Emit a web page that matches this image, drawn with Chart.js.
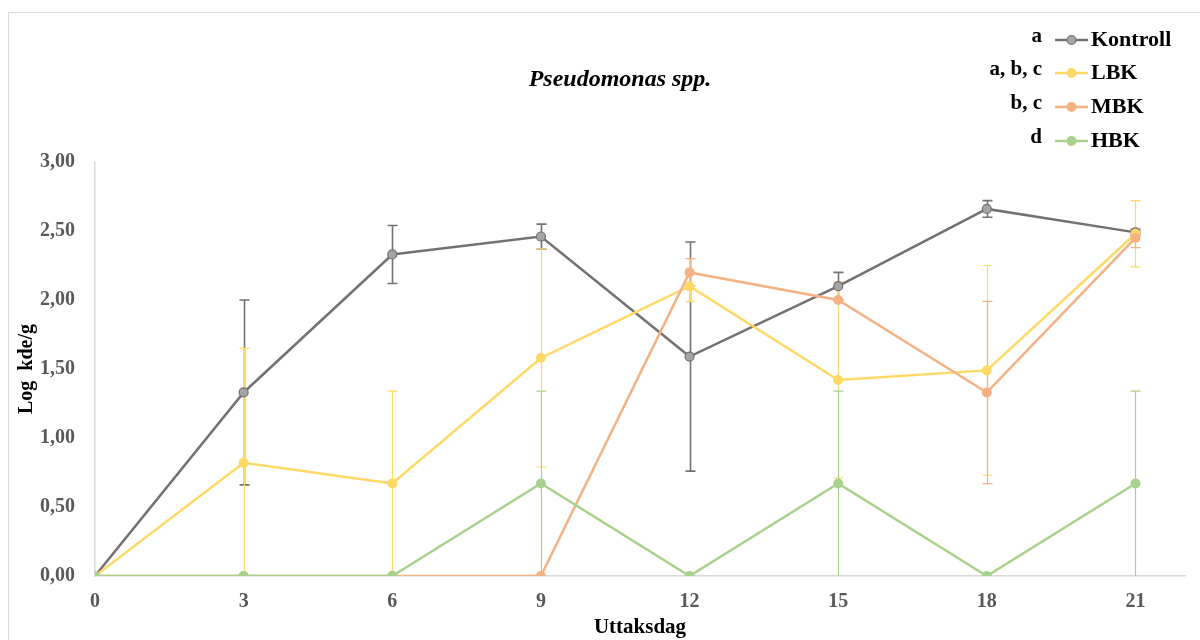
<!DOCTYPE html>
<html>
<head>
<meta charset="utf-8">
<script src="https://cdn.jsdelivr.net/npm/chart.js@4"></script>
<style>
  html, body { margin: 0; padding: 0; background: #fff; }
  #wrap { width: 1200px; height: 640px; position: relative; }
</style>
</head>
<body>
<div id="wrap"><canvas id="chart" width="1200" height="640"></canvas></div>
<script>
// sampling days
const days = [0, 3, 6, 9, 12, 15, 18, 21];

// mean log kde/g per series
const kontroll = [0, 1.33, 2.33, 2.46, 1.59, 2.10, 2.66, 2.49];
const lbk      = [0, 0.82, 0.67, 1.58, 2.10, 1.42, 1.49, 2.48];
const mbk      = [0, 0, 0, 0, 2.20, 2.00, 1.33, 2.45];
const hbk      = [0, 0, 0, 0.67, 0, 0.67, 0, 0.67];

// standard deviations (error bars)
const kontrollErr = [0, 0.67, 0.21, 0.09, 0.83, 0.10, 0.06, 0.02];
const lbkErr      = [0, 0.83, 0.67, 0.79, 0.11, 0.71, 0.76, 0.24];
const mbkErr      = [0, 0, 0, 0, 0.10, 0, 0.66, 0.07];
const hbkErr      = [0, 0, 0, 0.67, 0, 0.67, 0, 0.67];

// significance letters shown before each legend entry
const seriesNames = ['Kontroll', 'LBK', 'MBK', 'HBK'];
const groupLetters = ['a', 'a, b, c', 'b, c', 'd'];

const yTicks = [0, 0.5, 1, 1.5, 2, 2.5, 3];

const FONT = '"Liberation Serif", "Times New Roman", serif';
const COLORS = {
  kontroll: '#767171',
  lbk: '#FFD966',
  mbk: '#F4B183',
  hbk: '#A9D18E',
};
const POINT_FILL = ['#A5A5A5', COLORS.lbk, COLORS.mbk, COLORS.hbk];
const LINE_COLORS = [COLORS.kontroll, COLORS.lbk, COLORS.mbk, COLORS.hbk];

function toPoints(values) {
  return days.map((d, i) => ({ x: d, y: values[i] }));
}

function makeDataset(label, values, errs, idx) {
  return {
    label,
    data: toPoints(values),
    errors: errs,
    borderColor: LINE_COLORS[idx],
    backgroundColor: POINT_FILL[idx],
    pointBorderColor: LINE_COLORS[idx],
    pointBorderWidth: idx === 0 ? 1.2 : 0,
    pointRadius: idx === 0 ? 4.5 : 5,
    borderWidth: 2.5,
    tension: 0,
    order: 3 - idx,
  };
}

/**
 * Error bars, drawn with the chart's own scales
 */
const errorBars = {
  id: 'errorBars',
  beforeDatasetsDraw(chart) {
    const { ctx, scales: { x, y } } = chart;
    ctx.save();
    for (let di = 0; di < chart.data.datasets.length; di++) {
      const ds = chart.data.datasets[di];
      ctx.strokeStyle = ds.borderColor;
      ctx.lineWidth = di === 0 ? 1.6 : 1.2;
      ds.data.forEach((p, i) => {
        const e = ds.errors[i];
        if (!e) return;
        const px = Math.round(x.getPixelForValue(p.x)) + 0.5;
        const top = y.getPixelForValue(p.y + e);
        const bot = y.getPixelForValue(Math.max(0, p.y - e));
        ctx.beginPath();
        ctx.moveTo(px, top);
        ctx.lineTo(px, bot);
        ctx.moveTo(px - 5, top);
        ctx.lineTo(px + 5, top);
        if (p.y - e > 0) {
          ctx.moveTo(px - 5, bot);
          ctx.lineTo(px + 5, bot);
        }
        ctx.stroke();
      });
    }
    ctx.restore();
  }
};

/**
 * Frame, title and the lettered legend
 */
const decorations = {
  id: 'decorations',
  beforeDraw(chart) {
    const { ctx } = chart;
    ctx.save();
    ctx.strokeStyle = '#D9D9D9';
    ctx.lineWidth = 1;
    ctx.strokeRect(8.5, 12.5, 1300, 700);
    ctx.restore();
  },
  afterDraw(chart) {
    const { ctx } = chart;
    ctx.save();
    ctx.fillStyle = '#000';
    ctx.textAlign = 'center';
    ctx.textBaseline = 'middle';
    ctx.font = 'italic bold 24px ' + FONT;
    ctx.fillText('Pseudomonas spp.', 620, 80);

    const rowY = [40, 73, 107, 141];
    chart.data.datasets.forEach((ds, i) => {
      const yy = rowY[i];
      ctx.font = 'bold 21px ' + FONT;
      ctx.textAlign = 'right';
      ctx.fillStyle = '#000';
      ctx.fillText(groupLetters[i], 1042, yy - 3);

      ctx.strokeStyle = ds.borderColor;
      ctx.lineWidth = 2.5;
      ctx.beginPath();
      ctx.moveTo(1055, yy);
      ctx.lineTo(1088, yy);
      ctx.stroke();
      ctx.beginPath();
      ctx.arc(1071.5, yy, ds.pointRadius, 0, Math.PI * 2);
      ctx.fillStyle = ds.backgroundColor;
      ctx.fill();
      if (ds.pointBorderWidth) {
        ctx.lineWidth = ds.pointBorderWidth;
        ctx.stroke();
      }

      ctx.font = 'bold 22px ' + FONT;
      ctx.textAlign = 'left';
      ctx.fillStyle = '#000';
      ctx.fillText(ds.label, 1091, yy);
    });
    ctx.restore();
  }
};

const canvas = document.getElementById('chart');

new Chart(canvas, {
  type: 'line',
  data: {
    datasets: [
      makeDataset(seriesNames[0], kontroll, kontrollErr, 0),
      makeDataset(seriesNames[1], lbk, lbkErr, 1),
      makeDataset(seriesNames[2], mbk, mbkErr, 2),
      makeDataset(seriesNames[3], hbk, hbkErr, 3),
    ]
  },
  options: {
    responsive: false,
    animation: false,
    layout: {
      padding: { left: 0, right: 15, top: 162, bottom: 0 }
    },
    plugins: {
      legend: { display: false },
      tooltip: { enabled: false },
    },
    scales: {
      x: {
        type: 'linear',
        min: 0,
        max: 22,
        afterBuildTicks: (scale) => {
          scale.ticks = days.map(v => ({ value: v }));
        },
        afterFit: (scale) => { scale.height = 64; },
        grid: { display: true, drawOnChartArea: false, drawTicks: false },
        border: { display: true, color: '#D9D9D9', width: 1.5 },
        ticks: {
          color: '#595959',
          padding: 14,
          maxRotation: 0,
          font: { family: FONT, size: 20, weight: 'bold' },
        },
        title: {
          display: true,
          text: 'Uttaksdag',
          color: '#000',
          padding: { top: 0, bottom: 0 },
          font: { family: FONT, size: 21, weight: 'bold' },
        }
      },
      y: {
        min: 0,
        max: 3,
        afterBuildTicks: (scale) => {
          scale.ticks = yTicks.map(v => ({ value: v }));
        },
        afterFit: (scale) => { scale.width = 95; },
        grid: { display: true, drawOnChartArea: false, drawTicks: false },
        border: { display: true, color: '#D9D9D9', width: 1.5 },
        ticks: {
          color: '#595959',
          padding: 20,
          font: { family: FONT, size: 20, weight: 'bold' },
          callback: (v) => v.toFixed(2).replace('.', ','),
        },
        title: {
          display: true,
          text: 'Log  kde/g',
          color: '#000',
          padding: { top: 15, bottom: 0 },
          font: { family: FONT, size: 20, weight: 'bold' },
        }
      }
    }
  },
  plugins: [errorBars, decorations]
});
</script>
</body>
</html>
